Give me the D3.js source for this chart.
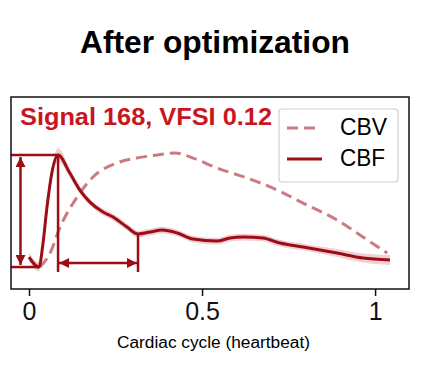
<!DOCTYPE html>
<html><head><meta charset="utf-8">
<script src="https://cdn.jsdelivr.net/npm/d3@7"></script>
<style>body{margin:0;background:#fff;}svg{display:block;font-family:"Liberation Sans",Arial,sans-serif;}</style>
</head><body><svg id="c" width="442" height="387"></svg>
<script>
const cbfX = [0.0, 0.029, 0.040, 0.052, 0.066, 0.084, 0.118, 0.147, 0.176, 0.214, 0.243, 0.283, 0.315, 0.350, 0.384, 0.428, 0.474, 0.543, 0.581, 0.618, 0.676, 0.725, 0.792, 0.890, 0.965, 1.043];
const cbfY = [0.089, 0.0, 0.2, 0.536, 0.84, 1.0, 0.839, 0.6875, 0.580, 0.491, 0.446, 0.357, 0.295, 0.3125, 0.330, 0.304, 0.25, 0.232, 0.259, 0.268, 0.259, 0.214, 0.179, 0.125, 0.080, 0.0625];
const cbfErr = [0.04, 0.04, 0.04, 0.045, 0.05, 0.06, 0.04, 0.035, 0.03, 0.03, 0.03, 0.03, 0.03, 0.03, 0.03, 0.03, 0.03, 0.03, 0.03, 0.03, 0.03, 0.03, 0.03, 0.035, 0.04, 0.045];
const cbvX = [0.032, 0.061, 0.090, 0.139, 0.185, 0.254, 0.312, 0.370, 0.422, 0.474, 0.543, 0.630, 0.717, 0.792, 0.890, 0.965, 1.035];
const cbvY = [0.0, 0.125, 0.357, 0.625, 0.804, 0.929, 0.973, 1.0, 1.018, 0.973, 0.884, 0.795, 0.6875, 0.571, 0.420, 0.268, 0.125];
const xTicks = [0, 0.5, 1];
const xTickLabels = ["0", "0.5", "1"];
const titleText = "After optimization";
const subTitle = "Signal 168, VFSI 0.12";
const xLabel = "Cardiac cycle (heartbeat)";
const legendLabels = ["CBV", "CBF"];
const endSystoleX = 0.315;

const dark = "#9c0d16", pink = "#cc7a82", band = "rgba(214,120,130,0.35)";
const svg = d3.select("#c");
const L = 11, R = 409, T = 97, B = 289;
const x = d3.scaleLinear().domain([-0.052, 1.098]).range([L, R]);
const y = d3.scaleLinear().domain([-0.196, 1.518]).range([B, T]);

svg.append("text").attr("x", 215).attr("y", 53).attr("text-anchor", "middle")
  .attr("font-size", 31).attr("font-weight", "bold")
  .attr("textLength", 270).attr("lengthAdjust", "spacingAndGlyphs").text(titleText);

const g = svg.append("g");
const cbf = cbfX.map((v, i) => ({x: v, y: cbfY[i], e: cbfErr[i]}));
const cbv = cbvX.map((v, i) => ({x: v, y: cbvY[i]}));

g.append("path").datum(cbf).attr("fill", band)
  .attr("d", d3.area().curve(d3.curveMonotoneX).x(d => x(d.x)).y0(d => y(d.y - d.e)).y1(d => y(d.y + d.e)));
g.append("path").datum(cbv).attr("fill", "none").attr("stroke", pink).attr("stroke-width", 3)
  .attr("stroke-dasharray", "11,6")
  .attr("d", d3.line().curve(d3.curveMonotoneX).x(d => x(d.x)).y(d => y(d.y)));
g.append("path").datum(cbf).attr("fill", "none").attr("stroke", dark).attr("stroke-width", 3)
  .attr("stroke-linejoin", "round")
  .attr("d", d3.line().curve(d3.curveMonotoneX).x(d => x(d.x)).y(d => y(d.y)));

// annotations
const peakI = d3.maxIndex(cbfY), minI = d3.minIndex(cbfY);
const peak = cbf[peakI], mn = cbf[minI];
const esY = cbfY[cbfX.indexOf(endSystoleX)];
const defs = svg.append("defs");
defs.append("marker").attr("id", "ah").attr("viewBox", "0 0 10 10").attr("refX", 10).attr("refY", 5)
  .attr("markerWidth", 4.4).attr("markerHeight", 4).attr("markerUnits", "strokeWidth").attr("orient", "auto-start-reverse")
  .append("path").attr("d", "M0,0L10,5L0,10Z").attr("fill", dark);
const ann = g.append("g").attr("stroke", dark).attr("stroke-width", 2.5).attr("fill", "none");
ann.append("line").attr("x1", L).attr("x2", x(peak.x)).attr("y1", y(peak.y)).attr("y2", y(peak.y));
ann.append("line").attr("x1", L).attr("x2", x(mn.x)).attr("y1", y(mn.y)).attr("y2", y(mn.y));
ann.append("line").attr("x1", 20.5).attr("x2", 20.5).attr("y1", y(peak.y) + 2).attr("y2", y(mn.y) - 2)
  .attr("marker-start", "url(#ah)").attr("marker-end", "url(#ah)");
ann.append("line").attr("x1", x(peak.x)).attr("x2", x(peak.x)).attr("y1", y(peak.y)).attr("y2", y(mn.y) + 5);
ann.append("line").attr("x1", x(endSystoleX)).attr("x2", x(endSystoleX)).attr("y1", y(esY)).attr("y2", y(mn.y) + 5);
ann.append("line").attr("x1", x(peak.x) + 1).attr("x2", x(endSystoleX) - 1).attr("y1", y(mn.y) - 4).attr("y2", y(mn.y) - 4)
  .attr("marker-start", "url(#ah)").attr("marker-end", "url(#ah)");

// frame
svg.append("rect").attr("x", L).attr("y", T).attr("width", R - L).attr("height", B - T)
  .attr("fill", "none").attr("stroke", "#111").attr("stroke-width", 1.5);

// axis
const ax = svg.append("g").attr("transform", `translate(0,${B})`)
  .call(d3.axisBottom(x).tickValues(xTicks).tickFormat((d, i) => xTickLabels[i]).tickSize(7).tickPadding(6));
ax.select(".domain").remove();
ax.selectAll("line").attr("stroke", "#111").attr("stroke-width", 1.5);
ax.selectAll("text").attr("font-size", 25).attr("fill", "#111").attr("font-family", '"Liberation Sans",Arial,sans-serif');
svg.append("text").attr("x", 213.5).attr("y", 348).attr("text-anchor", "middle").attr("font-size", 17.3)
  .attr("textLength", 193).attr("lengthAdjust", "spacingAndGlyphs").text(xLabel);

svg.append("text").attr("x", 20).attr("y", 125).attr("font-size", 24.5).attr("font-weight", "bold")
  .attr("fill", "#c8161f").attr("textLength", 252).attr("lengthAdjust", "spacingAndGlyphs").text(subTitle);

// legend
const lg = svg.append("g");
lg.append("rect").attr("x", 279).attr("y", 109).attr("width", 119).attr("height", 73).attr("rx", 3)
  .attr("fill", "rgba(255,255,255,0.85)").attr("stroke", "#d0d0d0").attr("stroke-width", 1.2);
lg.append("line").attr("x1", 287).attr("x2", 321).attr("y1", 128).attr("y2", 128).attr("stroke", pink)
  .attr("stroke-width", 3).attr("stroke-dasharray", "11,6");
lg.append("line").attr("x1", 287).attr("x2", 322).attr("y1", 159).attr("y2", 159).attr("stroke", dark).attr("stroke-width", 3);
lg.selectAll("text.l").data(legendLabels).join("text").attr("x", 340).attr("y", (d, i) => 135 + i * 31)
  .attr("font-size", 23).attr("textLength", (d, i) => i === 0 ? 47 : 45).attr("lengthAdjust", "spacingAndGlyphs").text(d => d);
</script></body></html>
